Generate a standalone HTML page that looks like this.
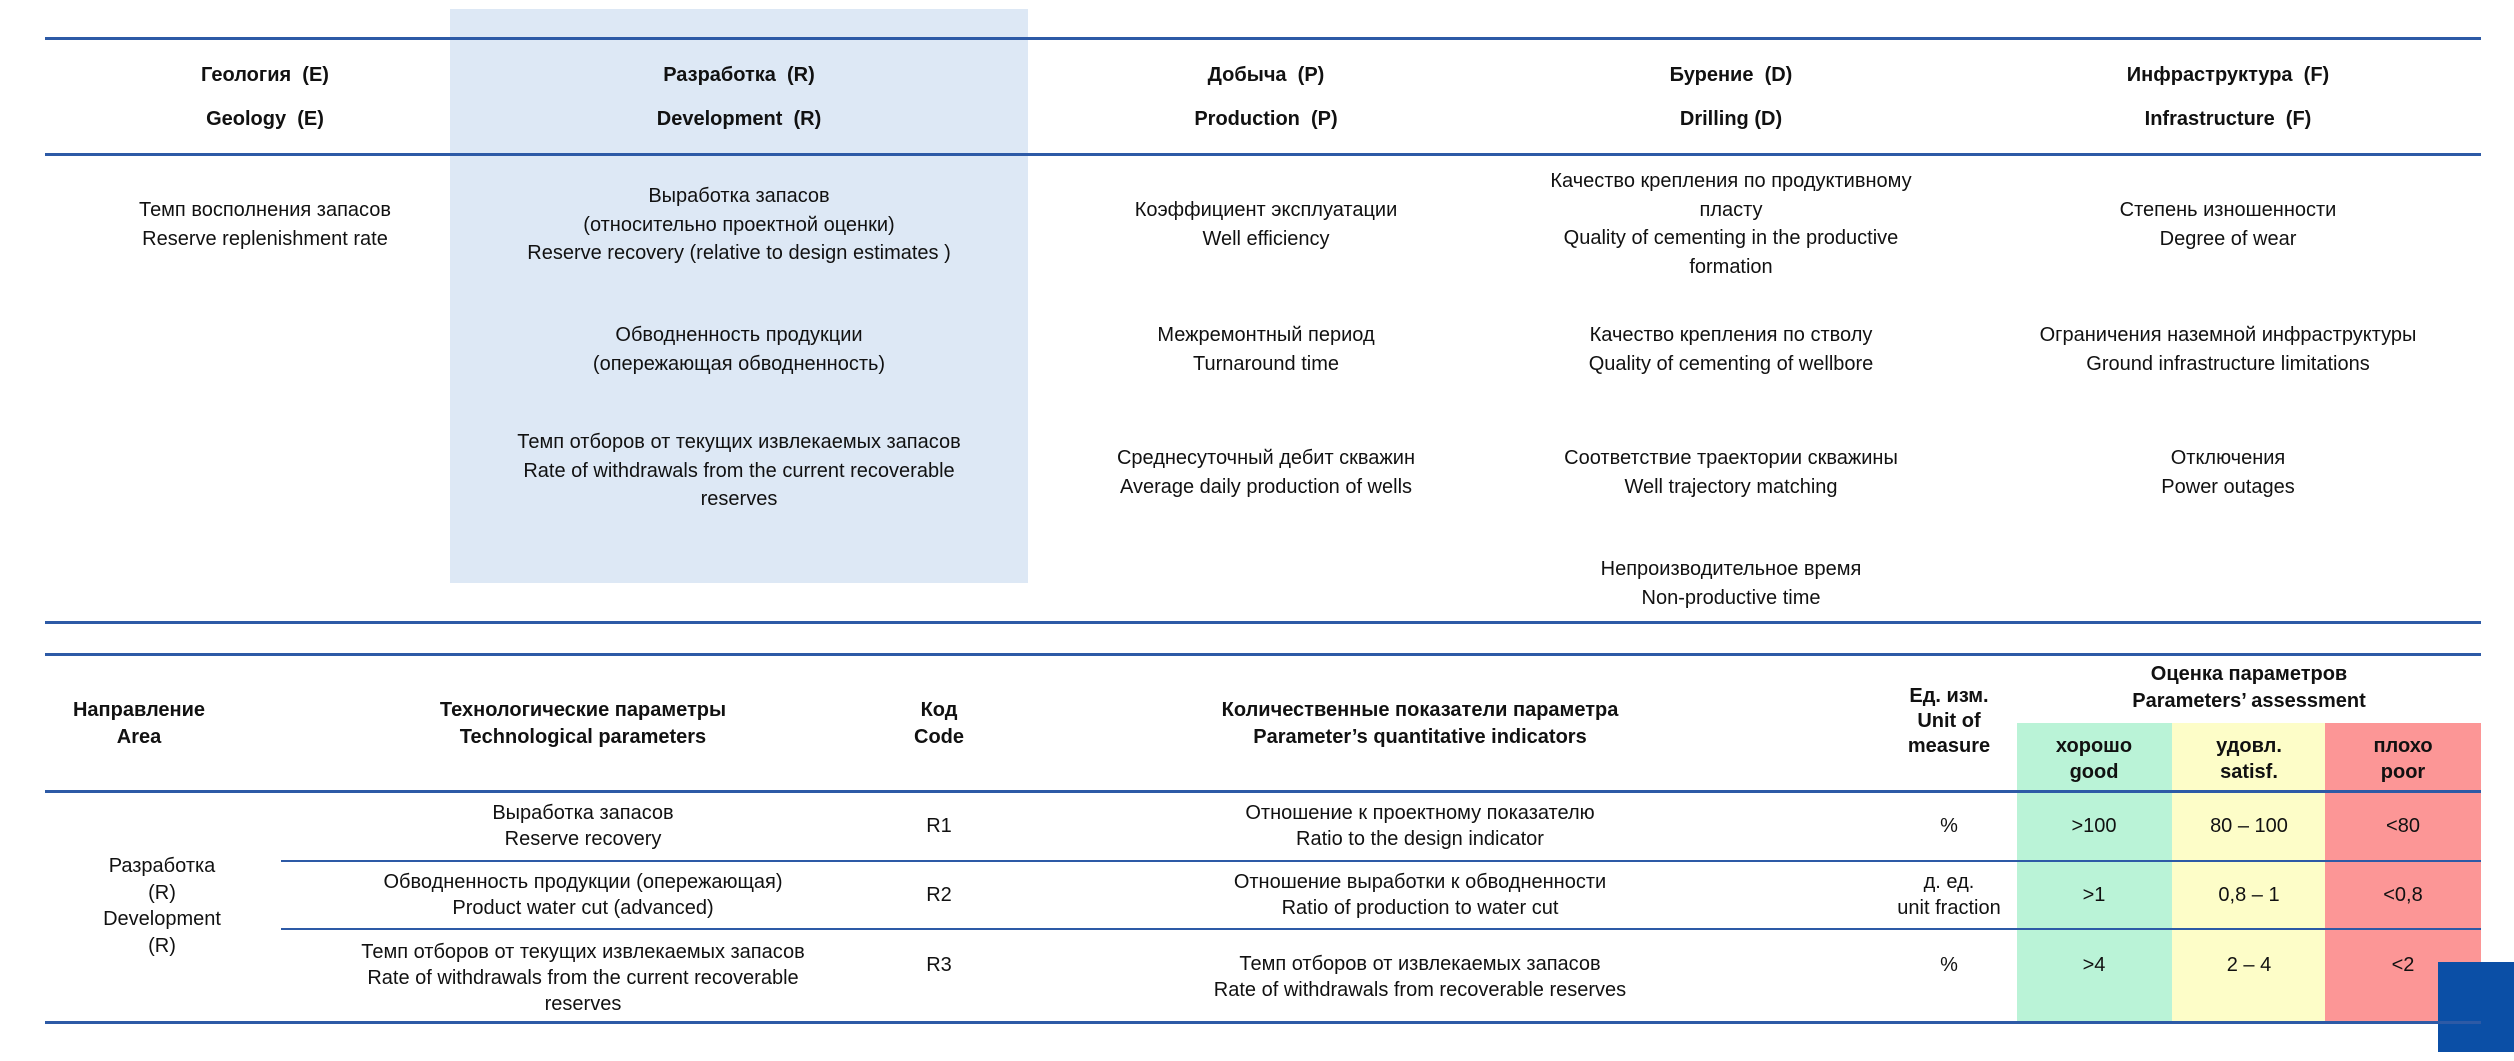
<!DOCTYPE html>
<html><head><meta charset="utf-8"><style>
body{margin:0;width:2514px;height:1061px;background:#fff;position:relative;overflow:hidden;font-family:"Liberation Sans","Noto Sans CJK SC",sans-serif;color:#111}
.l{position:absolute;height:3px;background:#2d5aa6}
.t{position:absolute;width:640px;text-align:center;font-size:20px;line-height:28.5px;white-space:nowrap}
.b{font-weight:bold}
.box{position:absolute}
</style></head><body>
<div class="box" style="left:450px;top:9px;width:578px;height:574px;background:#dde8f5"></div>
<div class="l" style="left:45px;top:37px;width:2436px"></div>
<div class="l" style="left:45px;top:153px;width:2436px"></div>
<div class="l" style="left:45px;top:621px;width:2436px"></div>
<div class="l" style="left:45px;top:653px;width:2436px"></div>

<div class="t b" style="left:-55px;top:53px;line-height:44px">Геология&nbsp; (E)<br>Geology&nbsp; (E)</div>
<div class="t b" style="left:419px;top:53px;line-height:44px">Разработка&nbsp; (R)<br>Development&nbsp; (R)</div>
<div class="t b" style="left:946px;top:53px;line-height:44px">Добыча&nbsp; (P)<br>Production&nbsp; (P)</div>
<div class="t b" style="left:1411px;top:53px;line-height:44px">Бурение&nbsp; (D)<br>Drilling (D)</div>
<div class="t b" style="left:1908px;top:53px;line-height:44px">Инфраструктура&nbsp; (F)<br>Infrastructure&nbsp; (F)</div>

<div class="t" style="left:-55px;top:196px">Темп восполнения запасов<br>Reserve replenishment rate</div>
<div class="t" style="left:419px;top:182px">Выработка запасов<br>(относительно проектной оценки)<br>Reserve recovery (relative to design estimates )</div>
<div class="t" style="left:419px;top:321px">Обводненность продукции<br>(опережающая обводненность)</div>
<div class="t" style="left:419px;top:428px">Темп отборов от текущих извлекаемых запасов<br>Rate of withdrawals from the current recoverable<br>reserves</div>
<div class="t" style="left:946px;top:196px">Коэффициент эксплуатации<br>Well efficiency</div>
<div class="t" style="left:946px;top:321px">Межремонтный период<br>Turnaround time</div>
<div class="t" style="left:946px;top:444px">Среднесуточный дебит скважин<br>Average daily production of wells</div>
<div class="t" style="left:1411px;top:167px">Качество крепления по продуктивному<br>пласту<br>Quality of cementing in the productive<br>formation</div>
<div class="t" style="left:1411px;top:321px">Качество крепления по стволу<br>Quality of cementing of wellbore</div>
<div class="t" style="left:1411px;top:444px">Соответствие траектории скважины<br>Well trajectory matching</div>
<div class="t" style="left:1411px;top:555px">Непроизводительное время<br>Non-productive time</div>
<div class="t" style="left:1908px;top:196px">Степень изношенности<br>Degree of wear</div>
<div class="t" style="left:1908px;top:321px">Ограничения наземной инфраструктуры<br>Ground infrastructure limitations</div>
<div class="t" style="left:1908px;top:444px">Отключения<br>Power outages</div>

<div class="box" style="left:2017px;top:723px;width:155px;height:300px;background:#baf3d7"></div>
<div class="box" style="left:2172px;top:723px;width:153px;height:300px;background:#fdfdc8"></div>
<div class="box" style="left:2325px;top:723px;width:156px;height:300px;background:#fc9696"></div>
<div class="box" style="left:2438px;top:962px;width:76px;height:90px;background:#0b4fa6"></div>

<div class="l" style="left:45px;top:790px;width:2436px"></div>
<div class="l" style="left:281px;top:860px;width:2200px;height:2px"></div>
<div class="l" style="left:281px;top:928px;width:2200px;height:2px"></div>
<div class="l" style="left:45px;top:1021px;width:2436px"></div>

<div class="t b" style="left:-181px;top:697px;line-height:27px">Направление<br>Area</div>
<div class="t b" style="left:263px;top:697px;line-height:27px">Технологические параметры<br>Technological parameters</div>
<div class="t b" style="left:619px;top:697px;line-height:27px">Код<br>Code</div>
<div class="t b" style="left:1100px;top:697px;line-height:27px">Количественные показатели параметра<br>Parameter’s quantitative indicators</div>
<div class="t b" style="left:1629px;top:684px;line-height:25px">Ед. изм.<br>Unit of<br>measure</div>
<div class="t b" style="left:1929px;top:661px;line-height:27px">Оценка параметров<br>Parameters’ assessment</div>
<div class="t b" style="left:1851px;top:733px;line-height:26px;width:486px">хорошо<br>good</div>
<div class="t b" style="left:2006px;top:733px;line-height:26px;width:486px">удовл.<br>satisf.</div>
<div class="t b" style="left:2160px;top:733px;line-height:26px;width:486px">плохо<br>poor</div>

<div class="t" style="left:-158px;top:853px;line-height:26.7px">Разработка<br>(R)<br>Development<br>(R)</div>
<div class="t" style="left:263px;top:800px;line-height:26px">Выработка запасов<br>Reserve recovery</div>
<div class="t" style="left:263px;top:869px;line-height:26px">Обводненность продукции (опережающая)<br>Product water cut (advanced)</div>
<div class="t" style="left:263px;top:939px;line-height:26px">Темп отборов от текущих извлекаемых запасов<br>Rate of withdrawals from the current recoverable<br>reserves</div>
<div class="t" style="left:619px;top:800px;line-height:52px">R1</div>
<div class="t" style="left:619px;top:869px;line-height:52px">R2</div>
<div class="t" style="left:619px;top:939px;line-height:52px">R3</div>
<div class="t" style="left:1100px;top:800px;line-height:26px">Отношение к проектному показателю<br>Ratio to the design indicator</div>
<div class="t" style="left:1100px;top:869px;line-height:26px">Отношение выработки к обводненности<br>Ratio of production to water cut</div>
<div class="t" style="left:1100px;top:951px;line-height:26px">Темп отборов от извлекаемых запасов<br>Rate of withdrawals from recoverable reserves</div>
<div class="t" style="left:1629px;top:800px;line-height:52px">%</div>
<div class="t" style="left:1629px;top:869px;line-height:26px">д. ед.<br>unit fraction</div>
<div class="t" style="left:1629px;top:939px;line-height:52px">%</div>
<div class="t" style="left:1851px;top:800px;line-height:52px;width:486px">&gt;100</div>
<div class="t" style="left:1851px;top:869px;line-height:52px;width:486px">&gt;1</div>
<div class="t" style="left:1851px;top:939px;line-height:52px;width:486px">&gt;4</div>
<div class="t" style="left:2006px;top:800px;line-height:52px;width:486px">80 – 100</div>
<div class="t" style="left:2006px;top:869px;line-height:52px;width:486px">0,8 – 1</div>
<div class="t" style="left:2006px;top:939px;line-height:52px;width:486px">2 – 4</div>
<div class="t" style="left:2160px;top:800px;line-height:52px;width:486px">&lt;80</div>
<div class="t" style="left:2160px;top:869px;line-height:52px;width:486px">&lt;0,8</div>
<div class="t" style="left:2160px;top:939px;line-height:52px;width:486px">&lt;2</div>
</body></html>
